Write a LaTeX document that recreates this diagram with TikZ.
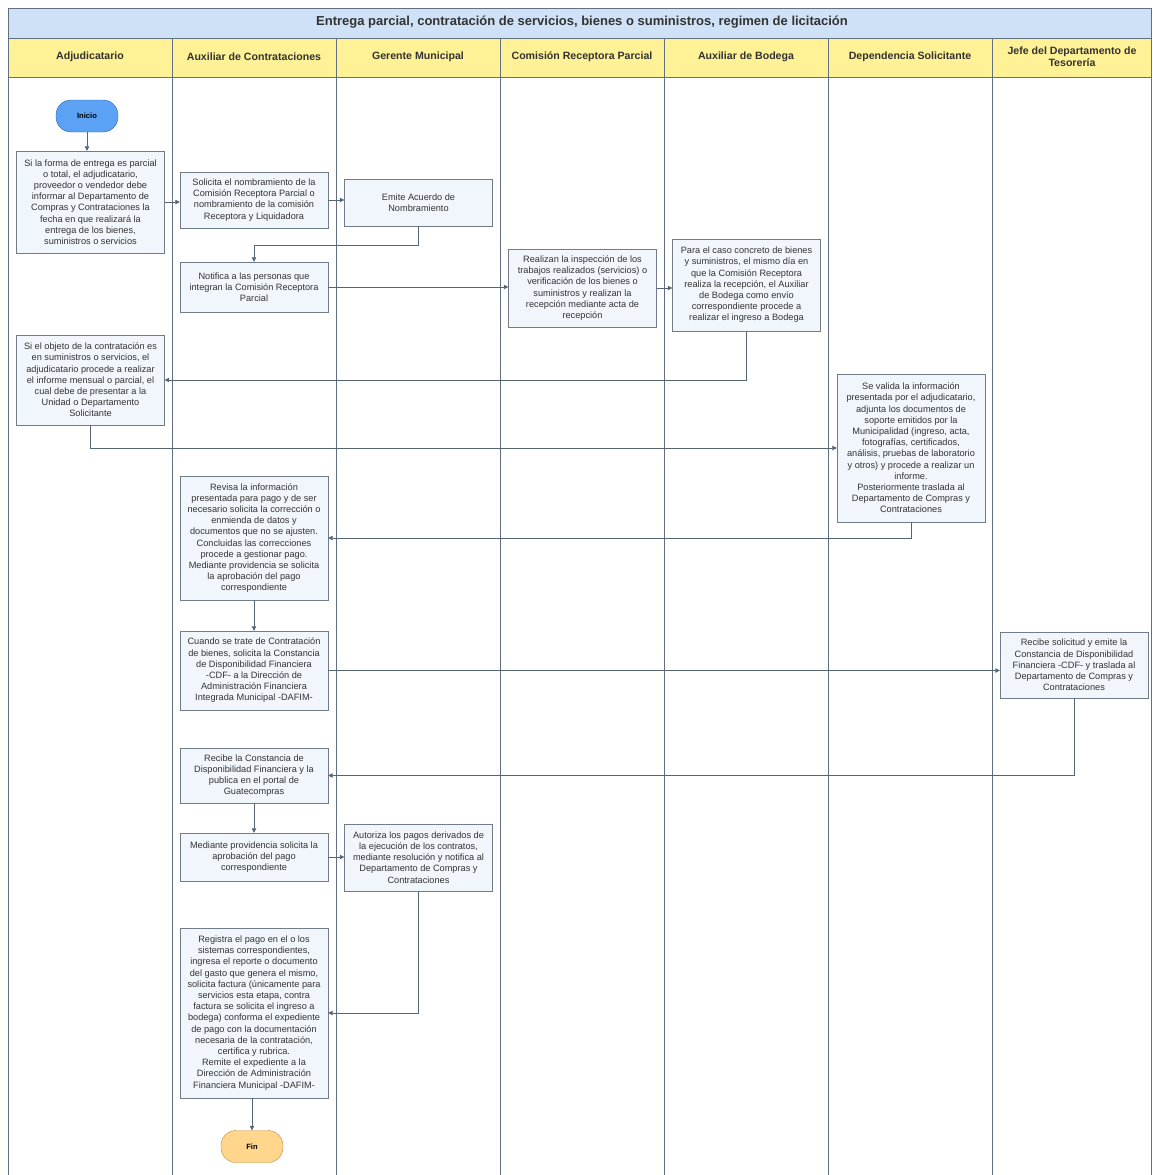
\documentclass[tikz,border=0pt]{standalone}
\usepackage{fontspec}
\setmainfont{Liberation Sans}
\usetikzlibrary{arrows.meta}

\definecolor{fondocaja}{RGB}{240,246,251}
\definecolor{bordecaja}{RGB}{112,124,136}
\definecolor{fondotitulo}{RGB}{206,225,246}
\definecolor{fondoencab}{RGB}{255,241,150}
\definecolor{lineacarril}{RGB}{96,112,128}
\definecolor{fondoinicio}{RGB}{92,162,244}
\definecolor{bordeinicio}{RGB}{52,102,178}
\definecolor{fondofin}{RGB}{255,214,140}
\definecolor{bordefin}{RGB}{186,140,64}

\tikzset{
  caja/.style={draw=bordecaja, fill=fondocaja, align=center, minimum width=148pt,
    inner sep=2pt, font=\fontsize{9.2}{11.2}\selectfont, text=black!80},
  terminal/.style={rounded corners=15pt, minimum width=62pt, minimum height=32pt,
    font=\fontsize{7.6}{9}\selectfont\bfseries},
  flecha/.style={draw=lineacarril!90!black, line width=0.7pt,
    -{Triangle[length=4.5pt,width=4.5pt]}},
}

\begin{document}
\begin{tikzpicture}[x=1pt, y=-1pt]
    \useasboundingbox (0,0) rectangle (1153,1175);

    % Marco, titulo y encabezados
    \draw[lineacarril, fill=fondotitulo] (8,8) rectangle (1151,38);
    \node[font=\fontsize{13}{15}\selectfont\bfseries, text=black!80] (titulo) at (582,22)
        {Entrega parcial, contratación de servicios, bienes o suministros, regimen de licitación};
    \draw[lineacarril, fill=fondoencab] (8,38) rectangle (1151,77);
    \draw[lineacarril] (8,77) -- (8,1175) (1151,77) -- (1151,1175);
    \foreach \x in {172,336,500,664,828,992}
        \draw[lineacarril] (\x,38) -- (\x,1175);
    \foreach \x/\nombre in {90/Adjudicatario, 254/Auxiliar de Contrataciones,
        418/Gerente Municipal, 582/Comisión Receptora Parcial, 746/Auxiliar de Bodega,
        910/Dependencia Solicitante, 1072/{Jefe del Departamento de\\Tesorería}}
        \node[align=center, font=\fontsize{10.6}{12.5}\selectfont\bfseries, text=black!80]
            at (\x,56.5) {\nombre};

    % Inicio
    \node[terminal, draw=bordeinicio, fill=fondoinicio] (inicio) at (87,116) {Inicio};

    % Adjudicatario informa la entrega
    \node[caja, minimum height=102pt] (entrega) at (90.5,202)
        {Si la forma de entrega es parcial\\o total, el adjudicatario,\\proveedor o vendedor debe\\informar al Departamento de\\Compras y Contrataciones la\\fecha en que realizará la\\entrega de los bienes,\\suministros o servicios};

    % Solicitud de la comision
    \node[caja, minimum height=56pt] (solicita) at (254,200)
        {Solicita el nombramiento de la\\Comisión Receptora Parcial o\\nombramiento de la comisión\\Receptora y Liquidadora};

    \node[caja, minimum height=47pt] (acuerdo) at (418.5,202.5)
        {Emite Acuerdo de\\Nombramiento};

    \node[caja, minimum height=50pt] (notifica) at (254,287)
        {Notifica a las personas que\\integran la Comisión Receptora\\Parcial};

    % Recepcion e ingreso
    \node[caja, minimum height=78pt] (recepcion) at (582.5,288)
        {Realizan la inspección de los\\trabajos realizados (servicios) o\\verificación de los bienes o\\suministros y realizan la\\recepción mediante acta de\\recepción};

    \node[caja, minimum height=92pt] (ingreso) at (746.5,285)
        {Para el caso concreto de bienes\\y suministros, el mismo día en\\que la Comisión Receptora\\realiza la recepción, el Auxiliar\\de Bodega como envío\\correspondiente procede a\\realizar el ingreso a Bodega};

    \node[caja, minimum height=90pt] (informe) at (90.5,380)
        {Si el objeto de la contratación es\\en suministros o servicios, el\\adjudicatario procede a realizar\\el informe mensual o parcial, el\\cual debe de presentar a la\\Unidad o Departamento\\Solicitante};

    \node[caja, minimum height=148pt] (valida) at (911,448)
        {Se valida la información\\presentada por el adjudicatario,\\adjunta los documentos de\\soporte emitidos por la\\Municipalidad (ingreso, acta,\\fotografías, certificados,\\análisis, pruebas de laboratorio\\y otros) y procede a realizar un\\informe.\\Posteriormente traslada al\\Departamento de Compras y\\Contrataciones};

    % Gestion del pago
    \node[caja, minimum height=124pt] (revisa) at (254,538)
        {Revisa la información\\presentada para pago y de ser\\necesario solicita la corrección o\\enmienda de datos y\\documentos que no se ajusten.\\Concluidas las correcciones\\procede a gestionar pago.\\Mediante providencia se solicita\\la aprobación del pago\\correspondiente};

    \node[caja, minimum height=79pt] (cdf) at (254,670.5)
        {Cuando se trate de Contratación\\de bienes, solicita la Constancia\\de Disponibilidad Financiera\\-CDF- a la Dirección de\\Administración Financiera\\Integrada Municipal -DAFIM-};

    \node[caja, minimum height=66pt] (emitecdf) at (1074,665)
        {Recibe solicitud y emite la\\Constancia de Disponibilidad\\Financiera -CDF- y traslada al\\Departamento de Compras y\\Contrataciones};

    \node[caja, minimum height=55pt] (publica) at (254,775.5)
        {Recibe la Constancia de\\Disponibilidad Financiera y la\\publica en el portal de\\Guatecompras};

    \node[caja, minimum height=48pt] (aprobacion) at (254,857)
        {Mediante providencia solicita la\\aprobación del pago\\correspondiente};

    \node[caja, minimum height=67pt] (autoriza) at (418.5,857.5)
        {Autoriza los pagos derivados de\\la ejecución de los contratos,\\mediante resolución y notifica al\\Departamento de Compras y\\Contrataciones};

    \node[caja, minimum height=170pt] (registra) at (254,1013)
        {Registra el pago en el o los\\sistemas correspondientes,\\ingresa el reporte o documento\\del gasto que genera el mismo,\\solicita factura (únicamente para\\servicios esta etapa, contra\\factura se solicita el ingreso a\\bodega) conforma el expediente\\de pago con la documentación\\necesaria de la contratación,\\certifica y rubrica.\\Remite el expediente a la\\Dirección de Administración\\Financiera Municipal -DAFIM-};

    % Fin
    \node[terminal, draw=bordefin, fill=fondofin] (fin) at (252,1146.5) {Fin};

    % Conectores
    \draw[flecha] (inicio.south) -- (inicio.south |- entrega.north);
    \draw[flecha] (entrega.east) -- (entrega.east -| solicita.west);
    \draw[flecha] (solicita.east) -- (solicita.east -| acuerdo.west);
    \draw[flecha] (acuerdo.south) -- ++(0,19) -| (notifica.north);
    \draw[flecha] (notifica.east) -- (notifica.east -| recepcion.west);
    \draw[flecha] (recepcion.east) -- (recepcion.east -| ingreso.west);
    \draw[flecha] (ingreso.south) |- (informe.east);
    \draw[flecha] (informe.south) |- (valida.west);
    \draw[flecha] (valida.south) |- (revisa.east);
    \draw[flecha] (revisa) -- (cdf);
    \draw[flecha] (cdf.east) -- (cdf.east -| emitecdf.west);
    \draw[flecha] (emitecdf.south) |- (publica.east);
    \draw[flecha] (publica) -- (aprobacion);
    \draw[flecha] (aprobacion.east) -- (aprobacion.east -| autoriza.west);
    \draw[flecha] (autoriza.south) |- (registra.east);
    \draw[flecha] (registra.south) -- (registra.south -| fin) -- (fin.north);
\end{tikzpicture}
\end{document}
